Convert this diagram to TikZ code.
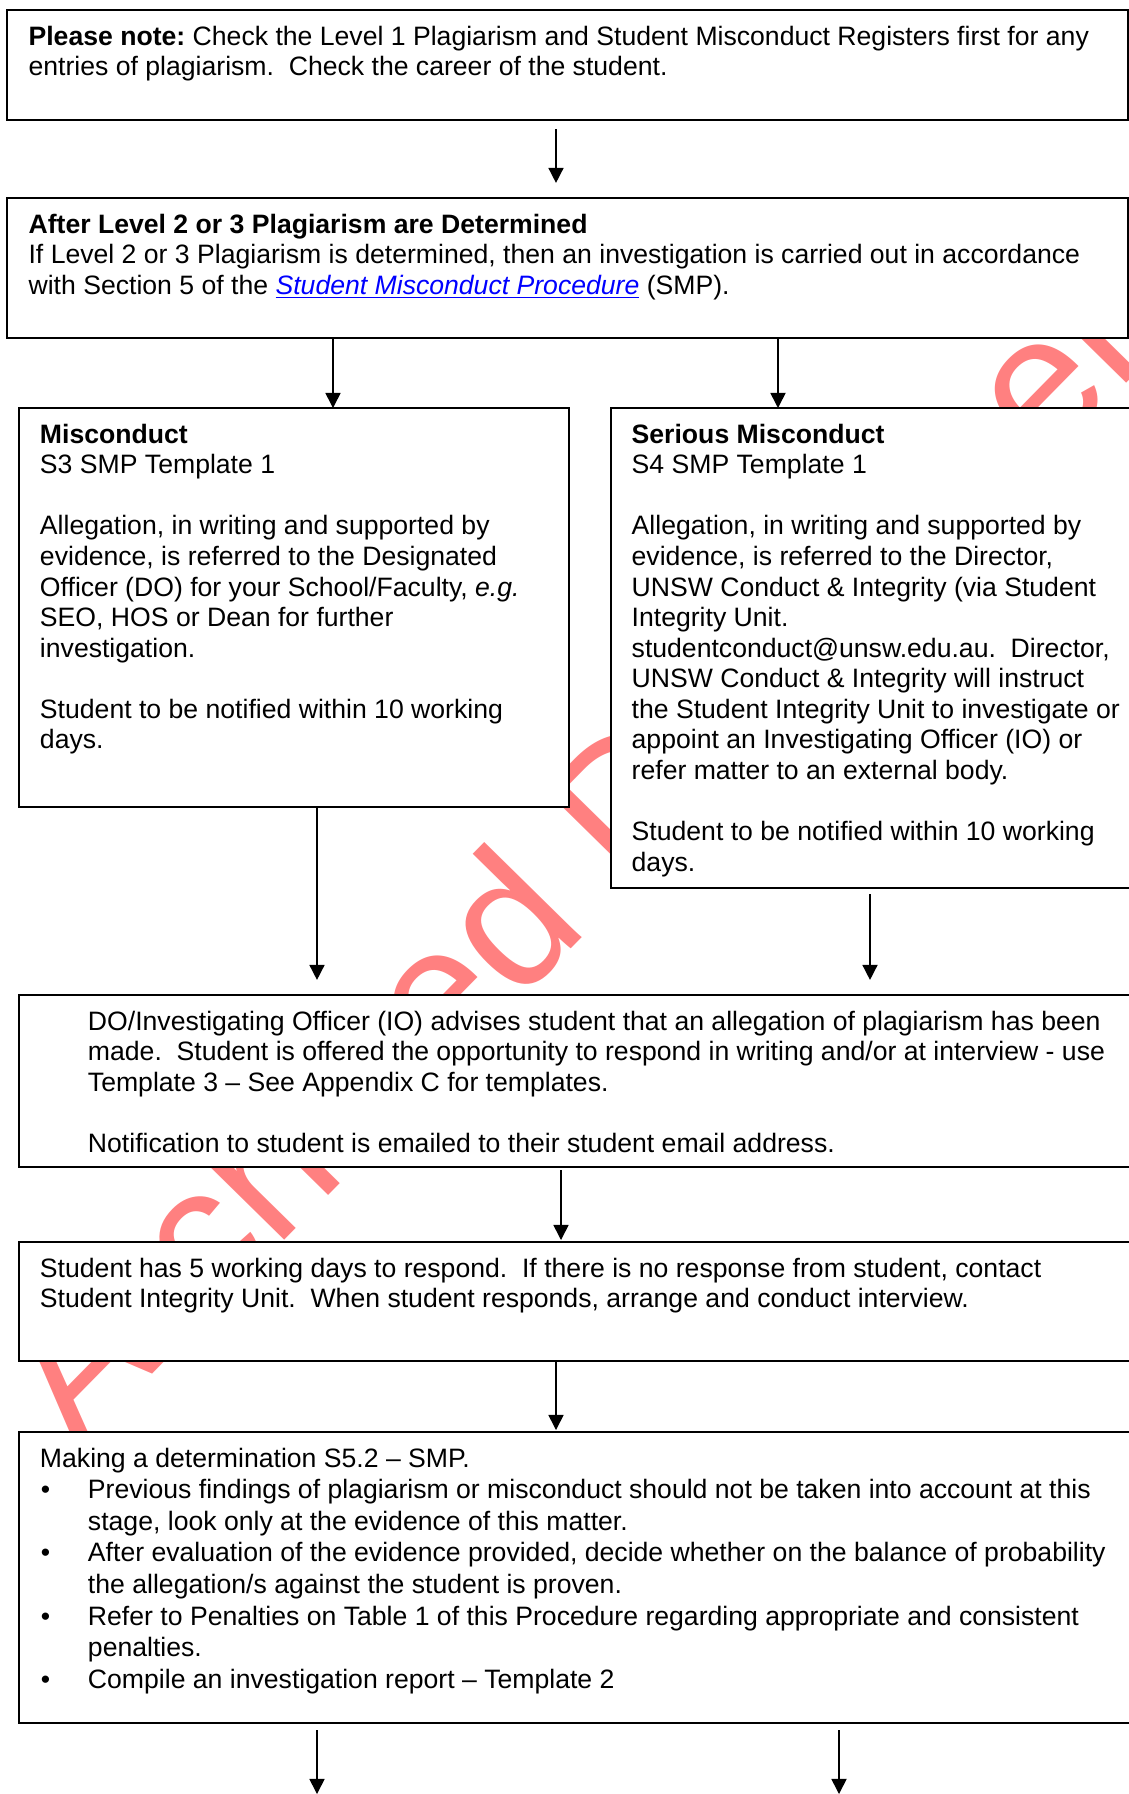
\documentclass[tikz,border=0pt]{standalone}
\usepackage{fontspec}
\setmainfont{Liberation Sans}
\usetikzlibrary{arrows.meta, positioning}

\newdimen\pxu \pxu=0.451pt
\definecolor{wmred}{RGB}{255,128,128}
% box text: width, height (in px), lines
\newcommand{\boxtxt}[3]{\makebox[#1\pxu][l]{\parbox[t][#2\pxu][t]{1300\pxu}{\raggedright\rule{0pt}{35\pxu}#3}}}
\newcommand{\smplink}[1]{\textcolor{blue}{\underline{\textit{#1}}}}
\newcommand{\gap}{\\[\baselineskip]}
\newcommand{\itm}{\makebox[48\pxu][l]{\hspace{1\pxu}\textbullet}}
\newcommand{\hang}{\hspace*{48\pxu}}

\tikzset{
  flowbox/.style={draw, line width=0.9pt, fill=white, inner ysep=0pt, inner xsep=#1,
    outer sep=0pt, anchor=north west, font=\fontsize{12}{13.8}\selectfont},
  flowbox/.default=9.74pt,
  arr/.style={-{Triangle[length=6.8pt,width=6.8pt]}, line width=0.7pt},
  watermark/.style={text=wmred, font=\fontsize{84.8}{84.8}\selectfont, inner sep=0pt,
    anchor=base west, rotate=45.5}
}

\begin{document}
\frenchspacing
\begin{tikzpicture}[x=0.451pt, y=-0.451pt]
\useasboundingbox (0,0) rectangle (1129,1794);
\clip (0,0) rectangle (1129,1794);

% Watermark
\node[watermark] (wm) at (77.5,1451) {Archived Document};

% Boxes
\node[flowbox] (note) at (7,10) {\boxtxt{1077.8}{110}{\textbf{Please note:} Check the Level 1 Plagiarism and Student Misconduct Registers first for any\\
  entries of plagiarism.~ Check the career of the student.}};
\node[flowbox] (after) at (7,198) {\boxtxt{1077.8}{140}{\textbf{After Level 2 or 3 Plagiarism are Determined}\\
  If Level 2 or 3 Plagiarism is determined, then an investigation is carried out in accordance\\
  with Section 5 of the \smplink{Student Misconduct Procedure} (SMP).}};
\node[flowbox=9.47pt] (misc) at (19,408) {\boxtxt{508}{399}{\textbf{Misconduct}\\
  S3 SMP Template 1\gap
  Allegation, in writing and supported by\\
  evidence, is referred to the Designated\\
  Officer (DO) for your School/Faculty, \textit{e.g.}\\
  SEO, HOS or Dean for further\\
  investigation.\gap
  Student to be notified within 10 working\\
  days.}};
\node[flowbox=9.47pt] (serious) at (610.7,408) {\boxtxt{548}{480}{\textbf{Serious Misconduct}\\
  S4 SMP Template 1\gap
  Allegation, in writing and supported by\\
  evidence, is referred to the Director,\\
  UNSW Conduct \& Integrity (via Student\\
  Integrity Unit.\\
  studentconduct@unsw.edu.au.~ Director,\\
  UNSW Conduct \& Integrity will instruct\\
  the Student Integrity Unit to investigate or\\
  appoint an Investigating Officer (IO) or\\
  refer matter to an external body.\gap
  Student to be notified within 10 working\\
  days.}};
\node[flowbox=31.1pt] (advise) at (19,995) {\boxtxt{1043}{172}{DO/Investigating Officer (IO) advises student that an allegation of plagiarism has been\\
  made.~ Student is offered the opportunity to respond in writing and/or at interview - use\\
  Template 3 – See Appendix C for templates.\gap
  Notification to student is emailed to their student email address.}};
\node[flowbox=9.47pt] (respond) at (19,1242) {\boxtxt{1139}{119}{Student has 5 working days to respond.~ If there is no response from student, contact\\
  Student Integrity Unit.~ When student responds, arrange and conduct interview.}};
\node[flowbox=9.47pt, font=\fontsize{12}{14.25}\selectfont] (decide) at (19,1432) {\boxtxt{1139}{291}{Making a determination S5.2 – SMP.\\
  \itm Previous findings of plagiarism or misconduct should not be taken into account at this\\
  \hang stage, look only at the evidence of this matter.\\
  \itm After evaluation of the evidence provided, decide whether on the balance of probability\\
  \hang the allegation/s against the student is proven.\\
  \itm Refer to Penalties on Table 1 of this Procedure regarding appropriate and consistent\\
  \hang penalties.\\
  \itm Compile an investigation report – Template 2}};

% Arrow columns
\coordinate (c1) at (556,0);
\coordinate (c2) at (333,0);
\coordinate (c3) at (778,0);
\coordinate (c4) at (317,0);
\coordinate (c5) at (870,0);
\coordinate (c6) at (561,0);
\coordinate (out1) at (317,1794);
\coordinate (out2) at (839,1794);

% Arrows
\draw[arr, shorten <=4.1pt, shorten >=6.8pt] (note.south -| c1) -- (after.north -| c1);
\draw[arr] (after.south -| c2) -- (misc.north -| c2);
\draw[arr] (after.south -| c3) -- (serious.north -| c3);
\draw[arr, shorten >=6.8pt] (misc.south -| c4) -- (advise.north -| c4);
\draw[arr, shorten <=2.7pt, shorten >=6.8pt] (serious.south -| c5) -- (advise.north -| c5);
\draw[arr, shorten <=1.4pt, shorten >=0.9pt] (advise.south -| c6) -- (respond.north -| c6);
\draw[arr, shorten >=0.9pt] (respond.south -| c1) -- (decide.north -| c1);
\draw[arr, shorten <=3.2pt] (decide.south -| out1) -- (out1);
\draw[arr, shorten <=3.2pt] (decide.south -| out2) -- (out2);
\end{tikzpicture}
\end{document}
